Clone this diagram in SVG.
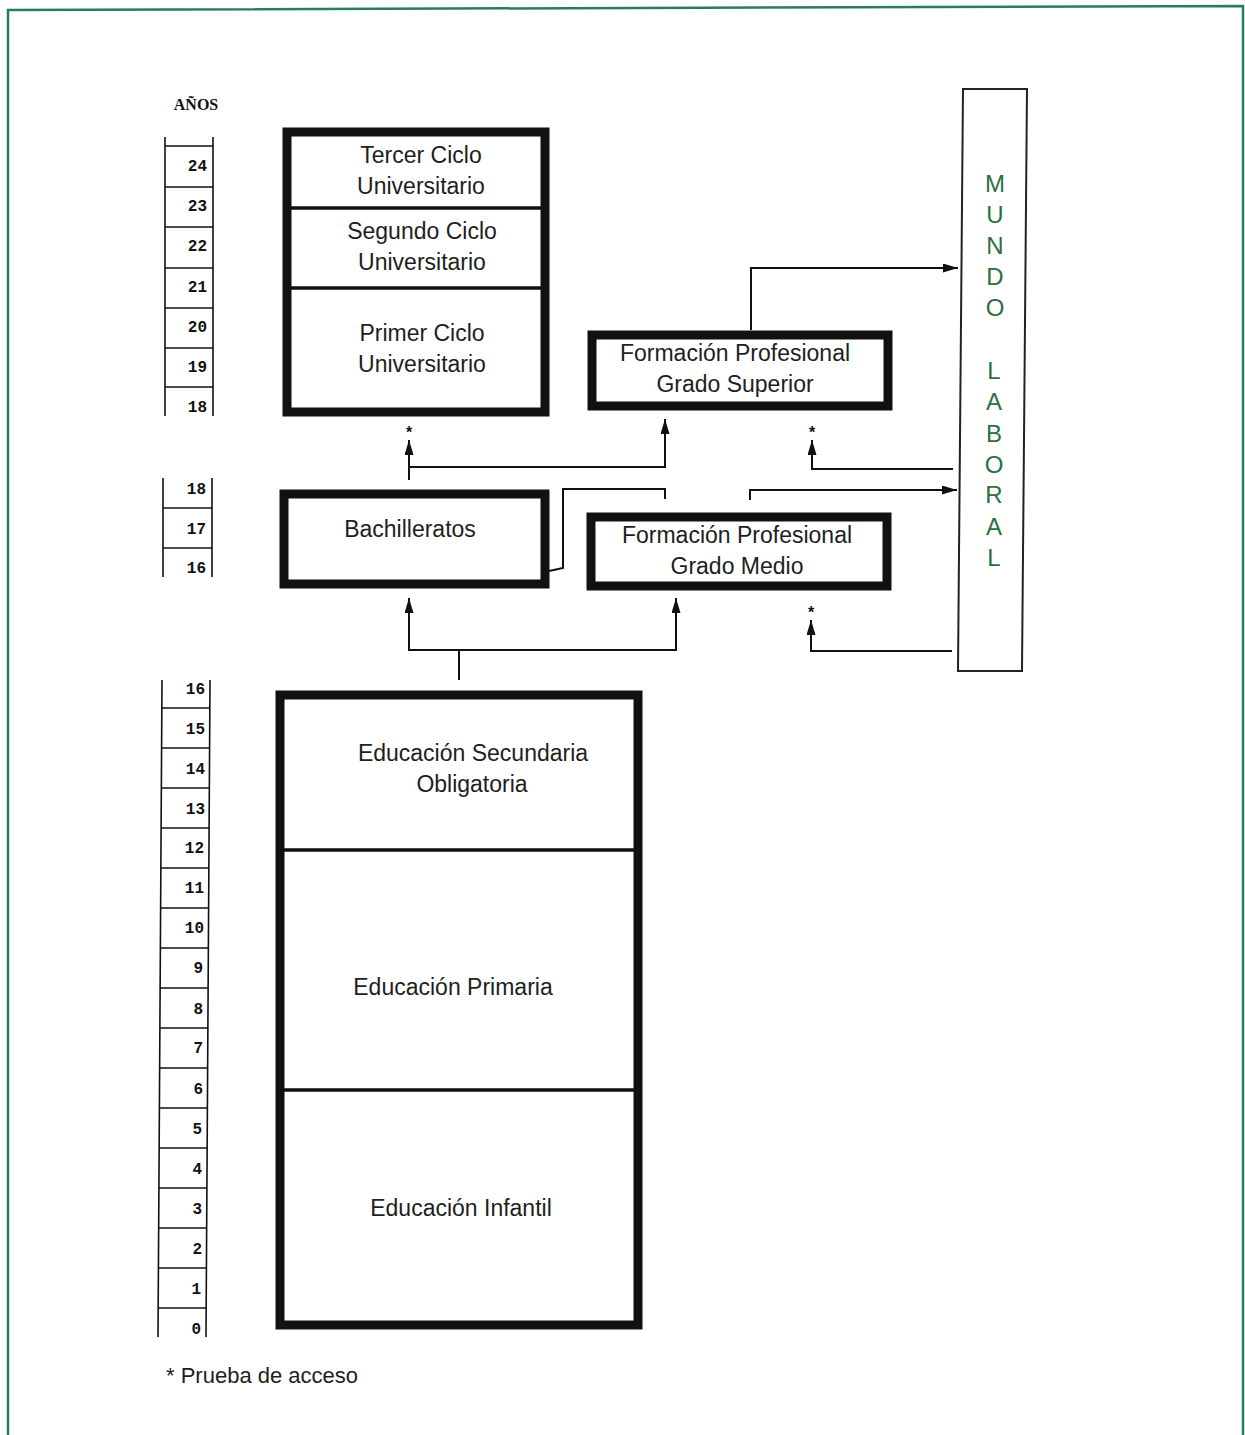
<svg xmlns="http://www.w3.org/2000/svg" width="1245" height="1435" viewBox="0 0 1245 1435">
<defs>
<style>
.lbl{font-family:"Liberation Sans",Arial,sans-serif;font-size:23px;fill:#1e1e1e;text-anchor:middle}
.num{font-family:"Liberation Mono","Courier New",monospace;font-size:16px;font-weight:bold;fill:#111;text-anchor:end}
.thick{fill:none;stroke:#111;stroke-width:9}
.div{stroke:#111;stroke-width:3.5}
.scale{stroke:#111;stroke-width:1.6;fill:none}
.con{fill:none;stroke:#111;stroke-width:2}
.ml{font-family:"Liberation Sans",Arial,sans-serif;font-size:24px;fill:#2a7040;text-anchor:middle}
.star{font-family:"Liberation Sans",Arial,sans-serif;font-size:16px;font-weight:bold;fill:#111;text-anchor:middle}
</style>
<marker id="arr" viewBox="0 0 15 9" refX="15" refY="4.5" markerWidth="15" markerHeight="9" orient="auto" markerUnits="userSpaceOnUse">
<path d="M0,0 L15,4.5 L0,9 Z" fill="#111"/>
</marker>
</defs>
<rect width="1245" height="1435" fill="#fff"/>
<path d="M8,1435 L8,10 L1243,6 L1243,1435" fill="none" stroke="#2a7d5c" stroke-width="2.5"/>

<g id="anos">
<text x="196" y="110" font-family="Liberation Serif,Times New Roman,serif" font-size="16" font-weight="bold" fill="#111" text-anchor="middle">AÑOS</text>
</g>

<g id="scale-top">
<path class="scale" d="M165,137 V416 M213,137 V416 M165,146 H213 M165,187 H213 M165,227 H213 M165,268 H213 M165,308 H213 M165,348 H213 M165,387 H213"/>
<text class="num" x="207" y="171">24</text>
<text class="num" x="207" y="211">23</text>
<text class="num" x="207" y="251">22</text>
<text class="num" x="207" y="292">21</text>
<text class="num" x="207" y="332">20</text>
<text class="num" x="207" y="372">19</text>
<text class="num" x="207" y="412">18</text>
</g>

<g id="scale-mid">
<path class="scale" d="M163,478 V577 M212,478 V577 M163,508 H212 M163,548 H212"/>
<text class="num" x="206" y="494">18</text>
<text class="num" x="206" y="534">17</text>
<text class="num" x="206" y="573">16</text>
</g>

<g id="scale-bottom">
<path class="scale" d="M162,680 L158,1337 M210,680 L206,1337 M162,708 H210 M162,748 H210 M162,788 H210 M161,828 H209 M161,868 H209 M161,908 H209 M161,948 H209 M160,988 H208 M160,1028 H208 M160,1068 H208 M160,1108 H208 M159,1148 H207 M159,1188 H207 M159,1228 H207 M159,1268 H207 M158,1308 H206"/>
<text class="num" x="205" y="694">16</text>
<text class="num" x="205" y="734">15</text>
<text class="num" x="205" y="774">14</text>
<text class="num" x="205" y="814">13</text>
<text class="num" x="204" y="853">12</text>
<text class="num" x="204" y="893">11</text>
<text class="num" x="204" y="933">10</text>
<text class="num" x="203" y="973">9</text>
<text class="num" x="203" y="1014">8</text>
<text class="num" x="203" y="1053">7</text>
<text class="num" x="203" y="1094">6</text>
<text class="num" x="202" y="1134">5</text>
<text class="num" x="202" y="1174">4</text>
<text class="num" x="202" y="1214">3</text>
<text class="num" x="202" y="1254">2</text>
<text class="num" x="201" y="1294">1</text>
<text class="num" x="201" y="1334">0</text>
</g>

<g id="universidad">
<rect class="thick" x="287" y="132" width="258" height="280"/>
<line class="div" x1="291" y1="208" x2="541" y2="208"/>
<line class="div" x1="291" y1="288" x2="541" y2="288"/>
<text class="lbl" x="421" y="163">Tercer Ciclo</text>
<text class="lbl" x="421" y="194">Universitario</text>
<text class="lbl" x="422" y="239">Segundo Ciclo</text>
<text class="lbl" x="422" y="270">Universitario</text>
<text class="lbl" x="422" y="341">Primer Ciclo</text>
<text class="lbl" x="422" y="372">Universitario</text>
</g>

<g id="fp-superior">
<rect class="thick" x="592" y="335" width="296" height="71"/>
<text class="lbl" x="735" y="361">Formación Profesional</text>
<text class="lbl" x="735" y="392">Grado Superior</text>
</g>

<g id="bachilleratos">
<rect class="thick" x="284" y="494" width="261" height="90"/>
<text class="lbl" x="410" y="537">Bachilleratos</text>
</g>

<g id="fp-medio">
<rect class="thick" x="591" y="517" width="296" height="69"/>
<text class="lbl" x="737" y="543">Formación Profesional</text>
<text class="lbl" x="737" y="574">Grado Medio</text>
</g>

<g id="mundo-laboral">
<path d="M963,89 L1027,89 L1022,671 L958,671 Z" fill="none" stroke="#222" stroke-width="2"/>
<text class="ml" x="995" y="192">M</text>
<text class="ml" x="995" y="223">U</text>
<text class="ml" x="995" y="254">N</text>
<text class="ml" x="995" y="285">D</text>
<text class="ml" x="995" y="316">O</text>
<text class="ml" x="994" y="379">L</text>
<text class="ml" x="994" y="410">A</text>
<text class="ml" x="994" y="442">B</text>
<text class="ml" x="994" y="473">O</text>
<text class="ml" x="994" y="503">R</text>
<text class="ml" x="994" y="535">A</text>
<text class="ml" x="994" y="566">L</text>
</g>

<g id="educacion-obligatoria">
<rect class="thick" x="280" y="695" width="358" height="630"/>
<line class="div" x1="284" y1="850" x2="634" y2="850"/>
<line class="div" x1="284" y1="1090" x2="634" y2="1090"/>
<text class="lbl" x="473" y="761">Educación Secundaria</text>
<text class="lbl" x="472" y="792">Obligatoria</text>
<text class="lbl" x="453" y="995">Educación Primaria</text>
<text class="lbl" x="461" y="1216">Educación Infantil</text>
</g>

<g id="connectors">
<path class="con" d="M751,330 V268 H958" marker-end="url(#arr)"/>
<path class="con" d="M409,480 V440" marker-end="url(#arr)"/>
<path class="con" d="M409,467 H665 V419" marker-end="url(#arr)"/>
<path class="con" d="M549,571 L563,568 V489 H665 V499"/>
<path class="con" d="M750,500 V490 H957" marker-end="url(#arr)"/>
<path class="con" d="M953,469 H812 V440" marker-end="url(#arr)"/>
<path class="con" d="M459,680 V650"/>
<path class="con" d="M409,650 H676"/>
<path class="con" d="M409,651 V598" marker-end="url(#arr)"/>
<path class="con" d="M676,651 V598" marker-end="url(#arr)"/>
<path class="con" d="M952,651 H811 V620" marker-end="url(#arr)"/>
<text class="star" x="409" y="438">*</text>
<text class="star" x="812" y="438">*</text>
<text class="star" x="811" y="618">*</text>
</g>

<g id="legend">
<text x="166" y="1383" font-family="Liberation Sans,Arial,sans-serif" font-size="22" fill="#1e1e1e">* Prueba de acceso</text>
</g>
</svg>
